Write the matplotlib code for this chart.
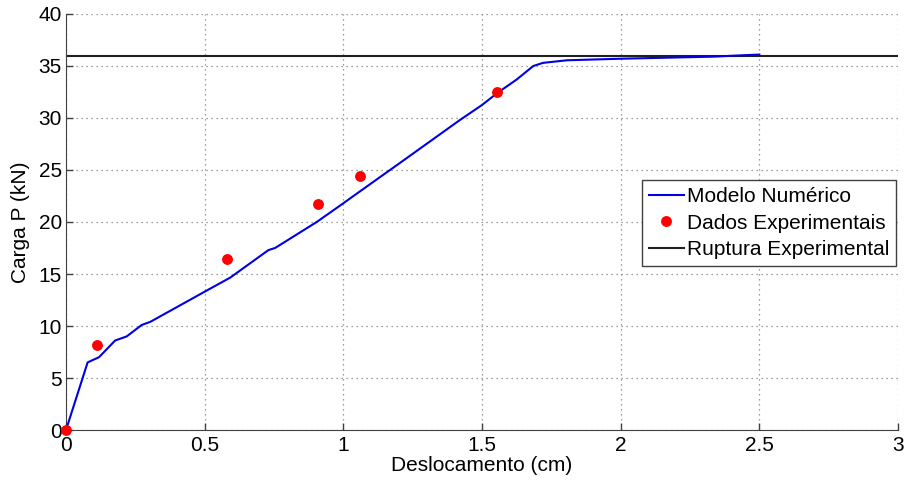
import matplotlib
matplotlib.use("Agg")
import matplotlib.pyplot as plt
import numpy as np

# Numerical model curve (displacement cm, load kN)
model_x = [0.0, 0.078, 0.119, 0.177, 0.219, 0.273, 0.304, 0.5, 0.592, 0.73, 0.754,
           0.904, 1.0, 1.026, 1.134, 1.2, 1.42, 1.5, 1.555, 1.625, 1.685, 1.72, 1.806,
           2.0, 2.335, 2.455, 2.5]
model_y = [0.0, 6.5, 7.0, 8.6, 9.0, 10.1, 10.4, 13.3, 14.65, 17.3, 17.5,
           20.0, 21.8, 22.3, 24.35, 25.6, 29.8, 31.25, 32.4, 33.7, 35.0, 35.3, 35.55,
           35.7, 35.9, 36.05, 36.1]

# Experimental points
exp_x = [0.0, 0.11, 0.579, 0.908, 1.06, 1.555]
exp_y = [0.0, 8.2, 16.4, 21.7, 24.45, 32.5]

# Experimental rupture load
rupture = 36.0

xticks = [0, 0.5, 1, 1.5, 2, 2.5, 3]
xticklabels = ["0", "0.5", "1", "1.5", "2", "2.5", "3"]
yticks = [0, 5, 10, 15, 20, 25, 30, 35, 40]

plt.rcParams['font.family'] = ['Liberation Sans', 'DejaVu Sans']

fig = plt.figure(figsize=(9.06, 4.83), dpi=100)
ax = fig.add_axes([66/906, 53/483, (898-66)/906, (430-14)/483])

ax.plot(model_x, model_y, color='#0000e6', lw=1.5, label='Modelo Numérico', zorder=3)
ax.plot(exp_x, exp_y, 'o', color='#ff0000', ms=6.8, mec='#ff0000', label='Dados Experimentais', zorder=4, clip_on=False)
ax.axhline(rupture, color='#202020', lw=1.5, label='Ruptura Experimental', zorder=2)

ax.set_xlim(0, 3)
ax.set_ylim(0, 40)
ax.set_xticks(xticks)
ax.set_xticklabels(xticklabels)
ax.set_yticks(yticks)
ax.grid(True, linestyle=(0, (1, 3)), color='#808080', lw=0.9)
ax.set_axisbelow(True)
for s in ['top', 'right']:
    ax.spines[s].set_visible(False)
for s in ['left', 'bottom']:
    ax.spines[s].set_color('#404040')
ax.tick_params(direction='in', length=5, labelsize=15, colors='black', width=1)
ax.tick_params(axis='both', color='#404040')
ax.tick_params(axis='x', pad=4)
ax.tick_params(axis='y', pad=3)

ax.set_xlabel('Deslocamento (cm)', fontsize=15, labelpad=1)
ax.set_ylabel('Carga P (kN)', fontsize=15, labelpad=6)

leg = ax.legend(loc='upper left', bbox_to_anchor=((642-66)/832, (430-180)/416), fontsize=15,
                frameon=True, fancybox=False, edgecolor='#404040', framealpha=1,
                handlelength=1.65, handletextpad=0.15, borderpad=0.35, labelspacing=0.35,
                borderaxespad=0)
leg.get_frame().set_linewidth(1.0)

fig.savefig('out.png', dpi=100)
